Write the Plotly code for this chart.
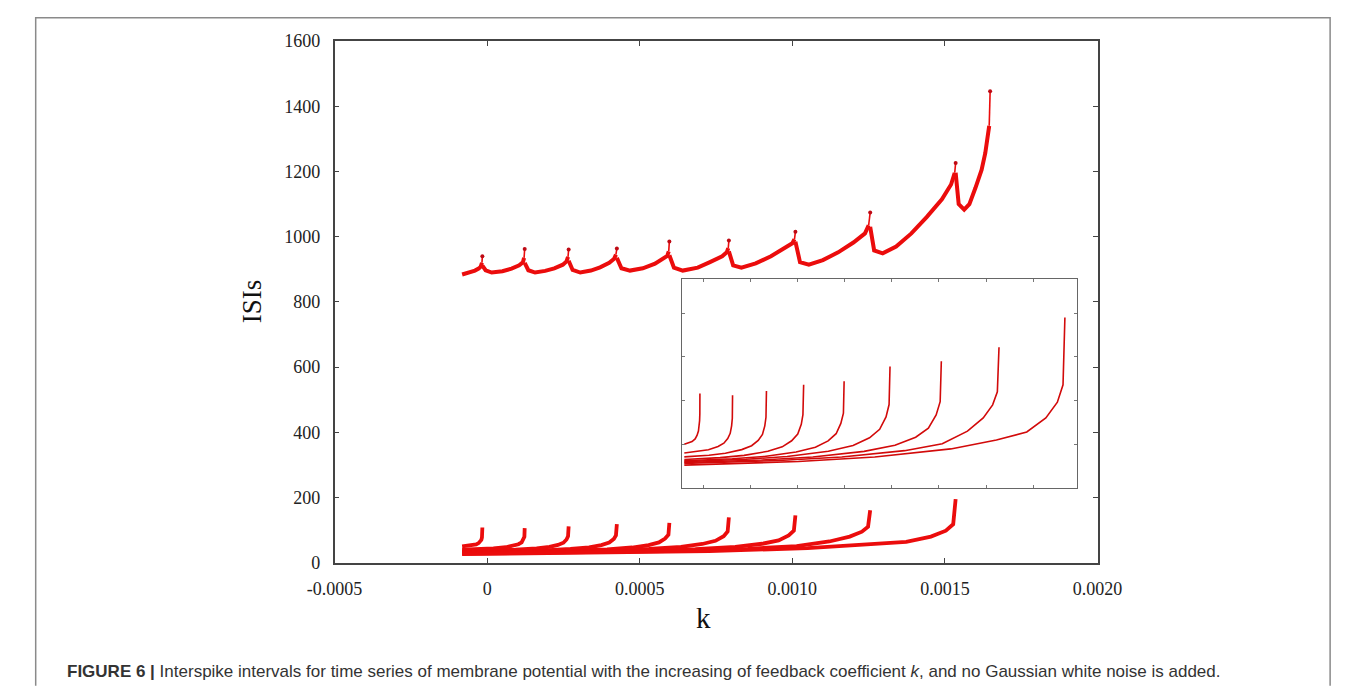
import plotly.graph_objects as go

W, H = 1358, 697
RED = "rgb(235,12,12)"

# ---------------- data ----------------
upper_k = [
    [-0.000082, -0.00006, -0.00004, -0.000028, -0.000021, -0.000017, -0.0000157],
    [-0.0000157, -0.000005, 0.000015, 0.00005, 0.00008, 0.000105, 0.000117, 0.000121, 0.000123],
    [0.000123, 0.000135, 0.000157, 0.00019, 0.00022, 0.000248, 0.00026, 0.000265, 0.000267],
    [0.000267, 0.00028, 0.000305, 0.00034, 0.00037, 0.0004, 0.000416, 0.000422, 0.000425],
    [0.000425, 0.00044, 0.000468, 0.00051, 0.00055, 0.000575, 0.00059, 0.000595, 0.000597],
    [0.000597, 0.000612, 0.000641, 0.00069, 0.00073, 0.00077, 0.000785, 0.00079, 0.000792],
    [0.000792, 0.000806, 0.000833, 0.00088, 0.00093, 0.00097, 0.001, 0.001007, 0.00101],
    [0.00101, 0.001025, 0.001054, 0.0011, 0.00115, 0.0012, 0.001238, 0.00125, 0.001255],
    [0.001255, 0.001268, 0.001296, 0.00134, 0.00139, 0.00144, 0.00149, 0.00152, 0.001532, 0.001535],
    [0.001535, 0.001545, 0.001563, 0.00158, 0.0016, 0.00162, 0.001632, 0.00164, 0.001645, 0.001648],
]
upper_isi = [
    [884, 889, 896, 902, 908, 920, 940],
    [911, 897, 890, 894, 902, 912, 921, 935, 962],
    [920, 897, 890, 895, 903, 914, 924, 938, 961],
    [926, 898, 890, 896, 906, 920, 932, 945, 964],
    [935, 903, 896, 903, 917, 930, 941, 955, 985],
    [943, 905, 896, 905, 922, 940, 952, 965, 988],
    [955, 912, 905, 918, 940, 962, 980, 992, 1015],
    [985, 922, 914, 928, 952, 982, 1010, 1035, 1074],
    [1030, 958, 949, 970, 1010, 1060, 1115, 1160, 1196, 1226],
    [1196, 1100, 1083, 1100, 1150, 1205, 1256, 1300, 1340, 1446],
]

lower_k = [
    [-0.000082, -0.000062, -0.000049, -0.000036, -0.000028, -0.000022, -0.000019, -0.000017, -0.000016, -0.0000157],
    [-0.000082, -0.0000205, 0.0000205, 0.0000615, 0.000086, 0.0001025, 0.000113, 0.000119, 0.000122, 0.000123],
    [-0.000082, 0.0000227, 0.0000925, 0.000162, 0.000204, 0.000232, 0.00025, 0.00026, 0.000265, 0.000267],
    [-0.000082, 0.00007, 0.000172, 0.000273, 0.000334, 0.000374, 0.0004, 0.000415, 0.000422, 0.000425],
    [-0.000082, 0.000122, 0.000258, 0.000393, 0.000475, 0.000529, 0.000563, 0.000583, 0.000594, 0.000597],
    [-0.000082, 0.00018, 0.000355, 0.00053, 0.000635, 0.000705, 0.000748, 0.000775, 0.000788, 0.000792],
    [-0.000082, 0.000246, 0.000464, 0.000682, 0.000813, 0.000901, 0.000955, 0.000988, 0.001005, 0.00101],
    [-0.000082, 0.000319, 0.000587, 0.000854, 0.001014, 0.001121, 0.001188, 0.001228, 0.001248, 0.001255],
    [-0.000082, 0.000403, 0.000727, 0.00105, 0.001244, 0.001373, 0.001454, 0.001503, 0.001527, 0.001535],
]
lower_isi = [
    [50, 51.5, 53, 56, 60, 65, 70, 77, 85, 108],
    [40, 41.7, 43.6, 47.3, 51.2, 56.5, 62.4, 71, 79.6, 106],
    [35.5, 37.4, 39.7, 43.8, 48.3, 54.4, 61.2, 71, 80.8, 111],
    [32.5, 34.6, 37.2, 41.9, 47, 53.9, 61.6, 72.7, 83.8, 118],
    [31, 33.3, 36, 41, 46.5, 53.8, 62, 73.8, 85.6, 122],
    [30, 32.7, 36, 42, 48.5, 57.3, 67, 81.2, 95.4, 139],
    [29, 31.9, 35.4, 41.8, 48.7, 58, 68.4, 83.5, 98.6, 145],
    [28, 31.3, 35.3, 42.6, 50.6, 65, 80, 95, 110, 161],
    [26, 30.2, 35.3, 44.6, 54.7, 64, 80, 98, 118, 195],
]

k_tickvals = [-0.0005, 0, 0.0005, 0.0010, 0.0015, 0.0020]
k_ticktext = ["-0.0005", "0", "0.0005", "0.0010", "0.0015", "0.0020"]
isi_tickvals = [0, 200, 400, 600, 800, 1000, 1200, 1400, 1600]

# ---------------- figure ----------------
fig = go.Figure()


def add_branch(kk, vv, width, axes, color=RED, thin_tip=False):
    xa, ya = axes
    if thin_tip:
        fig.add_trace(go.Scatter(x=kk[:-1], y=vv[:-1], mode="lines", line=dict(color=color, width=width),
                                 xaxis=xa, yaxis=ya, showlegend=False, hoverinfo="skip"))
        fig.add_trace(go.Scatter(x=kk[-2:], y=vv[-2:], mode="lines", line=dict(color=color, width=1.6),
                                 xaxis=xa, yaxis=ya, showlegend=False, hoverinfo="skip"))
        fig.add_trace(go.Scatter(x=kk[-1:], y=vv[-1:], mode="markers",
                                 marker=dict(color="rgb(190,10,20)", size=4),
                                 xaxis=xa, yaxis=ya, showlegend=False, hoverinfo="skip"))
    else:
        fig.add_trace(go.Scatter(x=kk, y=vv, mode="lines", line=dict(color=color, width=width),
                                 xaxis=xa, yaxis=ya, showlegend=False, hoverinfo="skip"))


for kk, vv in zip(upper_k, upper_isi):
    add_branch(kk, vv, 4, ("x", "y"), thin_tip=True)
for kk, vv in zip(lower_k, lower_isi):
    add_branch(kk, vv, 3.8, ("x", "y"))
for kk, vv in zip(lower_k, lower_isi):
    add_branch(kk, vv, 1.6, ("x2", "y2"), color="rgb(210,10,10)")

tickfont = dict(family="Liberation Serif", size=18, color="#222")
fx0, fx1, fy1, fy0 = 8 / W, 1355 / W, 1 - 8 / H, 0.002
fig.update_layout(
    width=W, height=H, autosize=False,
    margin=dict(l=0, r=0, t=0, b=0),
    paper_bgcolor="white", plot_bgcolor="white",
    xaxis=dict(domain=[319 / W, 1113 / W], range=[-0.0005, 0.0020], anchor="y",
               tickvals=k_tickvals, ticktext=k_ticktext, ticks="inside", ticklen=5,
               tickcolor="#444", showline=True, mirror="ticks", linecolor="#444",
               linewidth=1.5, showgrid=False, zeroline=False, tickfont=tickfont,
               ticklabelstandoff=9),
    yaxis=dict(domain=[1 - 569 / H, 1 - 32 / H], range=[0, 1600], anchor="x",
               tickvals=isi_tickvals, ticks="inside", ticklen=5, tickcolor="#444",
               showline=True, mirror="ticks", linecolor="#444", linewidth=1.5,
               showgrid=False, zeroline=False, tickfont=tickfont, ticklabelstandoff=9),
    xaxis2=dict(domain=[681 / W, 1092 / W], range=[-0.00009, 0.001588], anchor="y2",
                dtick=0.0002, tick0=0, ticks="inside", ticklen=3, tickcolor="#777",
                showline=True, mirror="ticks", linecolor="#666", linewidth=1,
                showgrid=False, zeroline=False, showticklabels=False),
    yaxis2=dict(domain=[1 - 492 / H, 1 - 277 / H], range=[0, 239], anchor="x2",
                dtick=50, tick0=0, ticks="inside", ticklen=3, tickcolor="#777",
                showline=True, mirror="ticks", linecolor="#666", linewidth=1,
                showgrid=False, zeroline=False, showticklabels=False),
    shapes=[
        dict(type="path", xref="paper", yref="paper",
             path=f"M {fx0},{fy0} L {fx0},{fy1} L {fx1},{fy1} L {fx1},{fy0}",
             line=dict(color="#8a8a8a", width=1.5), layer="below"),
    ],
    annotations=[
        dict(text="ISIs", x=233 / W, y=1 - 300 / H, xref="paper", yref="paper",
             textangle=-90, showarrow=False, xanchor="center", yanchor="middle",
             font=dict(family="Liberation Serif", size=27, color="#111")),
        dict(text="k", x=703 / W, y=1 - 626 / H, xref="paper", yref="paper",
             showarrow=False, xanchor="center", yanchor="middle",
             font=dict(family="Liberation Serif", size=29, color="#111")),
        dict(text="<b>FIGURE 6 |</b> Interspike intervals for time series of membrane potential "
                  "with the increasing of feedback coefficient <i>k</i>, and no Gaussian white noise is added.",
             x=38 / W, y=1 - 681 / H, xref="paper", yref="paper", showarrow=False,
             xanchor="left", yanchor="middle",
             font=dict(family="Liberation Sans", size=17, color="#333")),
    ],
)

fig.write_html("out.html")
